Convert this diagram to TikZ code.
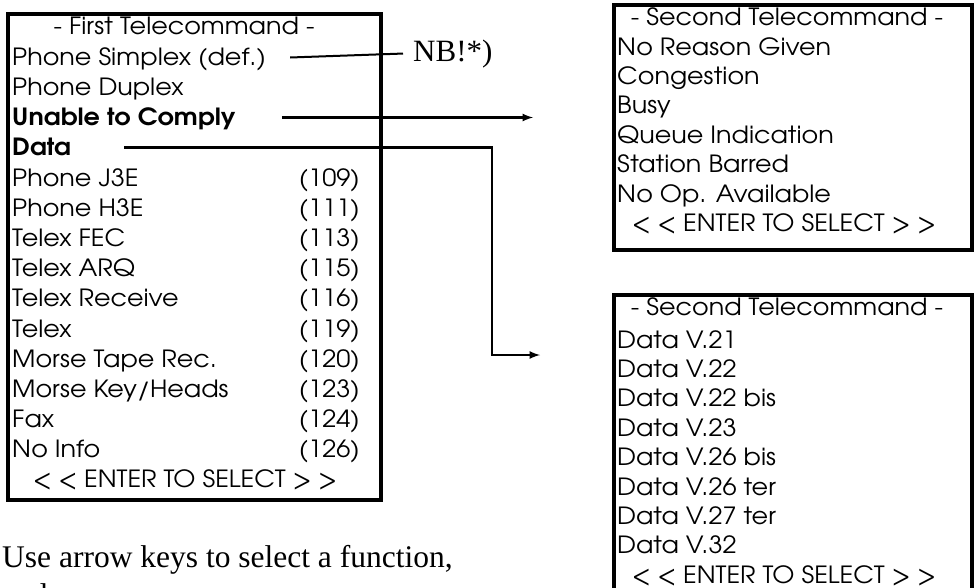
\documentclass[tikz,border=0pt]{standalone}
\usepackage{fontspec}
\setmainfont{Liberation Serif}
\newfontfamily\gothic[FakeStretch=1.073]{TeX Gyre Adventor}
\usetikzlibrary{arrows}
\usetikzlibrary{positioning}

\tikzset{
	menu/.style={draw, line width=3.5pt, anchor=north west, inner sep=0pt},
	row/.style={anchor=base west, inner sep=0pt, text height=19pt, text depth=4pt,
		font=\gothic\fontsize{23.7}{30}\selectfont},
	num/.style={row, anchor=base east},
	head/.style={row, anchor=base},
	link/.style={line width=2.5pt, >=latex},
}

\begin{document}
\begin{tikzpicture}[x=1pt,y=-1pt]
	\useasboundingbox (0,0) rectangle (974,587);
	
	% first telecommand
	\node[menu, minimum width=373pt, minimum height=486pt] (first) at (6,12) {};
	\node[head] (ftitle) at (184,34) {- First Telecommand -};
	\node[row] (simplex) at (12,65) {Phone Simplex (def.)};
	\node[row] (duplex) at (12,95) {Phone Duplex};
	\node[row, font=\gothic\bfseries\fontsize{23.7}{30}\selectfont] (unable) at (12,125) {Unable to Comply};
	\node[row, font=\gothic\bfseries\fontsize{23.7}{30}\selectfont] (data) at (12,155) {Data};
	\foreach \txt/\num [count=\i from 5] in {Phone J3E/(109), Phone H3E/(111), Telex FEC/(113),
		Telex ARQ/(115), Telex Receive/(116), Telex/(119), Morse Tape Rec./(120),
		{Morse Key/Heads}/(123), Fax/(124), No Info/(126)}{
		\node[row] (f\i) at (12,{35+30.2*\i}) {\txt};
		\node[num] (n\i) at (360,{35+30.2*\i}) {\num};
	}
	\node[head] (fenter) at (185,487) {< < ENTER TO SELECT > >};
	
	% second telecommand, unable to comply
	\node[menu, minimum width=358pt, minimum height=245pt] (reason) at (612,3) {};
	\node[head] (rtitle) at (787,25) {- Second Telecommand -};
	\foreach \txt [count=\i] in {No Reason Given, Congestion, Busy, Queue Indication,
		Station Barred, No Op. Available}{
		\node[row] (r\i) at (617,{25.6+29.4*\i}) {\txt};
	}
	\node[head] (renter) at (784,231) {< < ENTER TO SELECT > >};
	
	% second telecommand, data
	\node[menu, minimum width=358pt, minimum height=310pt] (datamenu) at (612,293) {};
	\node[head] (dtitle) at (787,315) {- Second Telecommand -};
	\foreach \txt [count=\i] in {Data V.21, Data V.22, Data V.22 bis, Data V.23,
		Data V.26 bis, Data V.26 ter, Data V.27 ter, Data V.32}{
		\node[row] (d\i) at (617,{318.6+29.4*\i}) {\txt};
	}
	\node[head] (denter) at (784,583) {< < ENTER TO SELECT > >};
	
	% notes
	\node[anchor=base west, inner sep=0pt, font=\fontsize{31}{34}\selectfont] (nb) at (413,61) {NB!*)};
	\node[anchor=base west, inner sep=0pt, font=\fontsize{31.5}{34}\selectfont] (hint) at (2,567)
		{Use arrow keys to select a function,};
	\node[anchor=base west, inner sep=0pt, font=\fontsize{31.5}{34}\selectfont] (hint2) at (2,605)
		{and press {\fontsize{25}{28}\selectfont ENTER}};
	
	% connectors
	\coordinate (toreason) at (533,0);
	\coordinate (todata) at (540,355);
	\coordinate (drop) at (492,0);
	\draw[line width=2pt] ([xshift=24pt]simplex.east) -- ([xshift=-10pt]nb.west);
	\draw[link,->] ([xshift=46pt]unable.east) -- (unable.east -| toreason);
	\draw[link,->] ([xshift=53pt]data.east) -| (drop |- todata) -- (todata);
	
\end{tikzpicture}
\end{document}
